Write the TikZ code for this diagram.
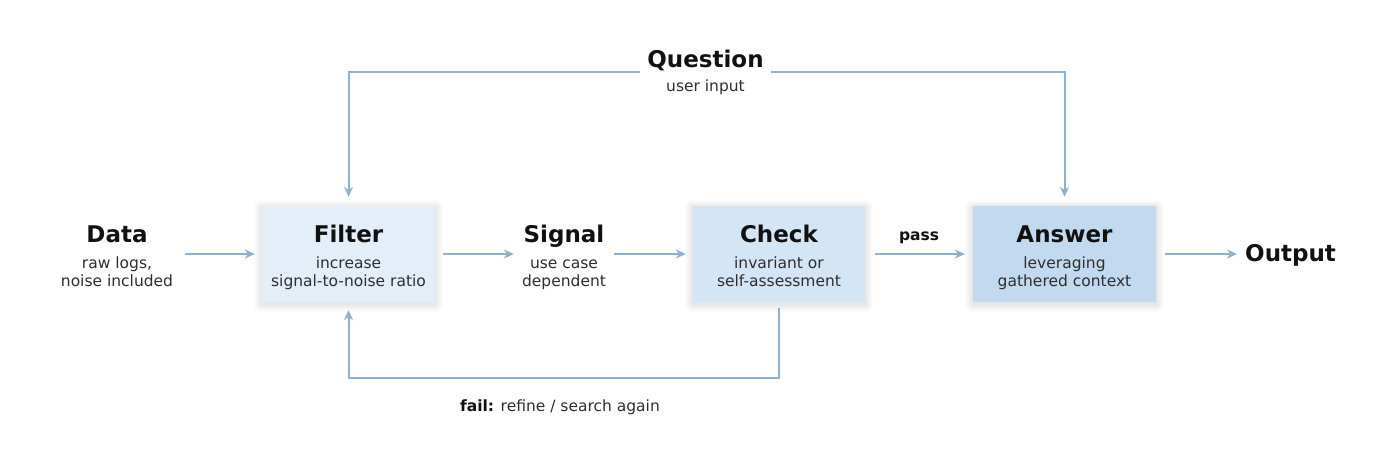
\documentclass[tikz,border=0pt]{standalone}
\usepackage{fontspec}
\setmainfont{DejaVu Sans}
\usetikzlibrary{arrows.meta}
\definecolor{arrowc}{HTML}{92B0CC}
\definecolor{fillA}{HTML}{E4EEF9}
\definecolor{fillB}{HTML}{D4E5F5}
\definecolor{fillC}{HTML}{C2D9EF}
\definecolor{titlec}{HTML}{111111}
\definecolor{subc}{HTML}{2E2E2E}
\tikzset{
  arr/.style={draw=arrowc, line width=2pt, -{Stealth[length=10pt,width=9pt]}},
  box/.style={rounded corners=1.5pt, minimum height=96pt, inner sep=0pt},
  ttl/.style={font=\fontsize{23}{27}\selectfont\bfseries, text=titlec, inner sep=0pt, anchor=base},
  sub/.style={font=\fontsize{15.5}{18}\selectfont, text=subc, inner sep=0pt, anchor=base},
  lbl/.style={font=\fontsize{15.5}{18}\selectfont, text=subc, inner sep=0pt, anchor=base},
  grp/.style={minimum height=1pt, inner sep=0pt},
}
\newcommand{\softshade}[1]{%
  \foreach \k in {1,...,8} {
    \fill[black, opacity=0.012, rounded corners=\k pt]
      ([shift={(-\k pt,-\k pt-2pt)}]#1.south west) rectangle ([shift={(\k pt,\k pt-2pt)}]#1.north east);
  }%
}
\begin{document}
\begin{tikzpicture}[x=1pt,y=-1pt]
\useasboundingbox[fill=white] (0,0) rectangle (1400,466);

% boxes
\node[box, minimum width=173pt] (filter) at (348.5,254) {};
\node[box, minimum width=172pt] (check) at (779,254) {};
\node[box, minimum width=183pt] (answer) at (1064.5,254) {};
\softshade{filter}
\softshade{check}
\softshade{answer}
\fill[fillA, rounded corners=1.5pt] (filter.south west) rectangle (filter.north east);
\fill[fillB, rounded corners=1.5pt] (check.south west) rectangle (check.north east);
\fill[fillC, rounded corners=1.5pt] (answer.south west) rectangle (answer.north east);

% box texts
\node[ttl] (filterT) at (348.5,242) {Filter};
\node[sub] (filterS1) at (348.5,268.5) {increase};
\node[sub] (filterS2) at (348.5,286.5) {signal-to-noise ratio};
\node[ttl] (checkT) at (779,242) {Check};
\node[sub] (checkS1) at (779,268.5) {invariant or};
\node[sub] (checkS2) at (779,286.5) {self-assessment};
\node[ttl] (answerT) at (1064.5,242) {Answer};
\node[sub] (answerS1) at (1064.5,268.5) {leveraging};
\node[sub] (answerS2) at (1064.5,286.5) {gathered context};

% free texts
\node[ttl] (dataT) at (117,242) {Data};
\node[sub] (dataS1) at (117,268.5) {raw logs,};
\node[sub] (dataS2) at (117,286.5) {noise included};
\node[grp, minimum width=132pt] (data) at (117,254) {};
\node[ttl] (signalT) at (564,242) {Signal};
\node[sub] (signalS1) at (564,268.5) {use case};
\node[sub] (signalS2) at (564,286.5) {dependent};
\node[grp, minimum width=100pt] (signal) at (564,254) {};
\node[ttl, anchor=base west] (outputT) at (1245,261) {Output};
\node[grp, anchor=west] (output) at (1245,254) {};
\node[ttl] (questionT) at (705.5,67) {Question};
\node[sub] (questionS) at (705.5,91.5) {user input};
\node[grp, minimum width=131pt] (question) at (705.5,72) {};
\node[lbl, font=\fontsize{15.5}{18}\selectfont\bfseries, text=titlec] (pass) at (919,240) {pass};
\node[lbl] (fail) at (560,411) {\textbf{\textcolor{titlec}{fail:}} refine / search again};

% connectors
\draw[arr, shorten <=2pt, shorten >=7pt] (data.east) -- (filter.west);
\draw[arr, shorten <=8pt] (filter.east) -- (signal.west);
\draw[arr, shorten >=7pt] (signal.east) -- (check.west);
\draw[arr, shorten <=10pt, shorten >=8pt] (check.east) -- (answer.west);
\draw[arr, shorten <=9pt, shorten >=8pt] (answer.east) -- (output.west);
\draw[arr, shorten >=9pt] (question.west) -| (filter.north);
\draw[arr, shorten >=9pt] (question.east) -| (answer.north);
\draw[arr, shorten <=6pt, shorten >=8pt] (check.south) -- ++(0,76) -| (filter.south);
\end{tikzpicture}
\end{document}
